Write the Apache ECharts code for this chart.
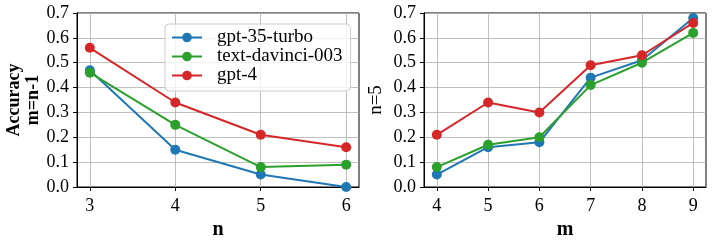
<!DOCTYPE html>
<html><head><meta charset="utf-8">
<script src="https://cdn.jsdelivr.net/npm/echarts@6/dist/echarts.min.js"></script>
<style>html,body{margin:0;padding:0;background:#fff}#c{width:712px;height:244px}</style>
</head><body><div id="c"></div>
<script>
const seriesNames = ['gpt-35-turbo', 'text-davinci-003', 'gpt-4'];
const leftX = [3, 4, 5, 6];
const leftGpt35 = [0.47, 0.15, 0.05, 0.00];
const leftDavinci = [0.46, 0.25, 0.08, 0.09];
const leftGpt4 = [0.56, 0.34, 0.21, 0.16];
const rightX = [4, 5, 6, 7, 8, 9];
const rightGpt35 = [0.05, 0.16, 0.18, 0.44, 0.51, 0.68];
const rightDavinci = [0.08, 0.17, 0.20, 0.41, 0.50, 0.62];
const rightGpt4 = [0.21, 0.34, 0.30, 0.49, 0.53, 0.66];
const yTicks = [0, 0.1, 0.2, 0.3, 0.4, 0.5, 0.6, 0.7];

const colors = ['#1f77b4', '#2ca02c', '#d62728'];
const font = 'Liberation Serif';
const chart = echarts.init(document.getElementById('c'));
const zip = (xs, ys) => xs.map((x, i) => [x, ys[i]]);

function xAxis(gi, vals, name) {
  const span = vals[vals.length - 1] - vals[0];
  return {
    type: 'value', gridIndex: gi,
    min: vals[0] - span * 0.05, max: vals[vals.length - 1] + span * 0.05,
    name: name, nameLocation: 'middle', nameGap: 28,
    nameTextStyle: {fontFamily: font, fontSize: 20, fontWeight: 'bold', color: '#000'},
    axisLine: {show: true, onZero: false, lineStyle: {color: '#000', width: 1}},
    axisTick: {show: true, length: 4, customValues: vals, lineStyle: {color: '#000'}},
    axisLabel: {customValues: vals, fontFamily: font, fontSize: 18, color: '#000', margin: 10},
    splitLine: {show: true, lineStyle: {color: '#b0b0b0', width: 0.8}}
  };
}
function yAxis(gi, name, bold, gap, fs) {
  return {
    type: 'value', gridIndex: gi, min: 0, max: 0.7, interval: 0.1,
    name: name, nameLocation: 'middle', nameGap: gap, nameRotate: 90,
    nameTextStyle: {fontFamily: font, fontSize: fs, fontWeight: bold ? 'bold' : 'normal', color: '#000', lineHeight: 19},
    axisLine: {show: true, lineStyle: {color: '#000', width: 1}},
    axisTick: {show: true, length: 4, lineStyle: {color: '#000'}},
    axisLabel: {fontFamily: font, fontSize: 18, color: '#000', margin: 8, formatter: v => v.toFixed(1)},
    splitLine: {show: true, lineStyle: {color: '#b0b0b0', width: 0.8}}
  };
}
function line(name, gi, xs, ys, ci) {
  return {
    name: name, type: 'line', xAxisIndex: gi, yAxisIndex: gi,
    data: zip(xs, ys), symbol: 'circle', symbolSize: 10,
    lineStyle: {color: colors[ci], width: 2}, itemStyle: {color: colors[ci]},
    emphasis: {disabled: true}, animation: false, z: 3 + ci
  };
}

chart.setOption({
  animation: false,
  grid: [
    {left: 77, top: 13, width: 282, height: 174, show: true, borderColor: '#000', borderWidth: 1, containLabel: false, outerBoundsMode: 'none'},
    {left: 424, top: 13, width: 282, height: 174, show: true, borderColor: '#000', borderWidth: 1, containLabel: false, outerBoundsMode: 'none'}
  ],
  xAxis: [xAxis(0, leftX, 'n'), xAxis(1, rightX, 'm')],
  yAxis: [yAxis(0, 'Accuracy\nm=n-1', true, 34, 18), yAxis(1, 'n=5', false, 38, 19)],
  legend: {
    data: seriesNames, orient: 'vertical', left: 165, top: 24,
    itemWidth: 30, itemHeight: 12, itemGap: 0,
    padding: [4, 8, 6, 6],
    borderColor: '#cccccc', borderWidth: 1, borderRadius: 4, backgroundColor: 'rgba(255,255,255,0.8)',
    textStyle: {fontFamily: font, fontSize: 19, lineHeight: 19, color: '#000', padding: [0, 0, 0, 10]}
  },
  series: [
    line(seriesNames[0], 0, leftX, leftGpt35, 0),
    line(seriesNames[1], 0, leftX, leftDavinci, 1),
    line(seriesNames[2], 0, leftX, leftGpt4, 2),
    line(seriesNames[0], 1, rightX, rightGpt35, 0),
    line(seriesNames[1], 1, rightX, rightDavinci, 1),
    line(seriesNames[2], 1, rightX, rightGpt4, 2)
  ]
});
</script></body></html>
